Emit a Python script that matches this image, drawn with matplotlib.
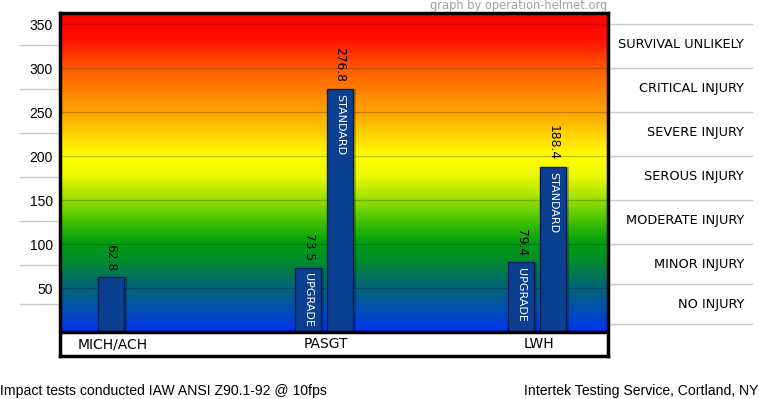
import matplotlib
matplotlib.use('AGG')
import matplotlib.pyplot as plt
import numpy as np
from matplotlib.colors import LinearSegmentedColormap
from matplotlib.lines import Line2D
from matplotlib import transforms

# data
categories = ['MICH/ACH', 'PASGT', 'LWH']
bar_group = [0, 1, 1, 2, 2]
bar_values = [62.8, 73.5, 276.8, 79.4, 188.4]
bar_tags = ['', 'UPGRADE', 'STANDARD', 'UPGRADE', 'STANDARD']
y_ticks = [50, 100, 150, 200, 250, 300, 350]
injury_labels = ['SURVIVAL UNLIKELY', 'CRITICAL INJURY', 'SEVERE INJURY', 'SEROUS INJURY',
                 'MODERATE INJURY', 'MINOR INJURY', 'NO INJURY']
injury_levels = [327, 277, 227, 177, 127, 77, 32]
band_edges = [350, 300, 250, 200, 150, 100, 55, 9]

W, H = 759, 399
fig = plt.figure(figsize=(W / 100, H / 100), dpi=100)
ax = fig.add_axes([60 / W, (H - 356) / H, (608 - 60) / W, (356 - 13) / H])

ymin, ymax = -26.9, 362.8
xmin, xmax = -0.2394, 2.333
ax.set_xlim(xmin, xmax)
ax.set_ylim(ymin, ymax)

# background gradient (value -> colour)
stops = [(0, '#0033ee'), (25, '#0050b0'), (56, '#006a6a'), (79, '#008a30'),
         (101, '#00a010'), (124, '#40c000'), (150, '#99e000'), (176, '#eaf800'),
         (199, '#ffff00'), (250, '#ffa500'), (300, '#ff5a00'), (332, '#ff1000'),
         (362.8, '#ff0000')]
cmap = LinearSegmentedColormap.from_list('heat', [(v / 362.8, c) for v, c in stops])
grad = np.linspace(0, 1, 400).reshape(-1, 1)
ax.imshow(grad, cmap=cmap, origin='lower', aspect='auto',
          extent=[xmin, xmax, 0, ymax], zorder=0)

for t in y_ticks:
    ax.axhline(t, color='black', alpha=0.22, linewidth=1, zorder=1)
ax.axhline(0, color='black', linewidth=2.5, zorder=4)

# bars
offsets = {'': 0.0, 'UPGRADE': -0.075, 'STANDARD': 0.075}
xs = [bar_group[i] + offsets[bar_tags[i]] for i in range(len(bar_values))]
bw = 0.122
shadow_dx = 3 / 213
ax.bar([x + shadow_dx for x in xs], bar_values, width=bw, color='black', alpha=0.25,
       zorder=2, linewidth=0)
ax.bar(xs, bar_values, width=bw, color='#0b4090', edgecolor='#021a55',
       linewidth=1, zorder=3)

for x, v, tag in zip(xs, bar_values, bar_tags):
    ax.annotate(f'{v:.1f}', (x, v), xytext=(0, 4.5), textcoords='offset points',
                rotation=270, rotation_mode='anchor', ha='right', va='center',
                fontsize=8.8, color='black', zorder=5)
    if tag:
        ax.annotate(tag, (x, v), xytext=(0, -4), textcoords='offset points',
                    rotation=270, rotation_mode='anchor', ha='left', va='center',
                    fontsize=8, color='white', zorder=5)

# category labels in white strip
for i, c in enumerate(categories):
    ax.text(i + 0.01, ymin / 2, c, ha='center', va='center', fontsize=10, color='black')

ax.set_yticks(y_ticks)
ax.set_yticklabels([str(t) for t in y_ticks], fontfamily='Liberation Sans', fontsize=10)
ax.tick_params(axis='y', length=0, pad=5)
ax.set_xticks([])
for s in ax.spines.values():
    s.set_linewidth(2.5)
    s.set_color('black')
    s.set_zorder(6)

# guide lines outside the plot
tr = transforms.blended_transform_factory(fig.transFigure, ax.transData)
for lv in injury_levels:
    fig.add_artist(Line2D([20 / W, 59 / W], [lv, lv], transform=tr, color='#c8c8c8',
                          linewidth=1, zorder=0))
for e in band_edges:
    fig.add_artist(Line2D([610 / W, 752 / W], [e, e], transform=tr, color='#c8c8c8',
                          linewidth=1, zorder=0))
for lab, lv in zip(injury_labels, injury_levels):
    fig.text(744 / W, lv, lab, transform=tr, ha='right', va='center',
             fontsize=9.3, color='black')

fig.text(607 / W, 1 - 5 / H, 'graph by operation-helmet.org', ha='right', va='center',
         fontsize=8.3, color='#a0a0a0')
fig.text(0, 1 - 391 / H, 'Impact tests conducted IAW ANSI Z90.1-92 @ 10fps', ha='left',
         va='center', fontfamily='Liberation Sans', fontsize=10.1, color='black')
fig.text(758 / W, 1 - 391 / H, 'Intertek Testing Service, Cortland, NY', ha='right',
         va='center', fontfamily='Liberation Sans', fontsize=10.1, color='black')

plt.savefig('out.png', dpi=100)
